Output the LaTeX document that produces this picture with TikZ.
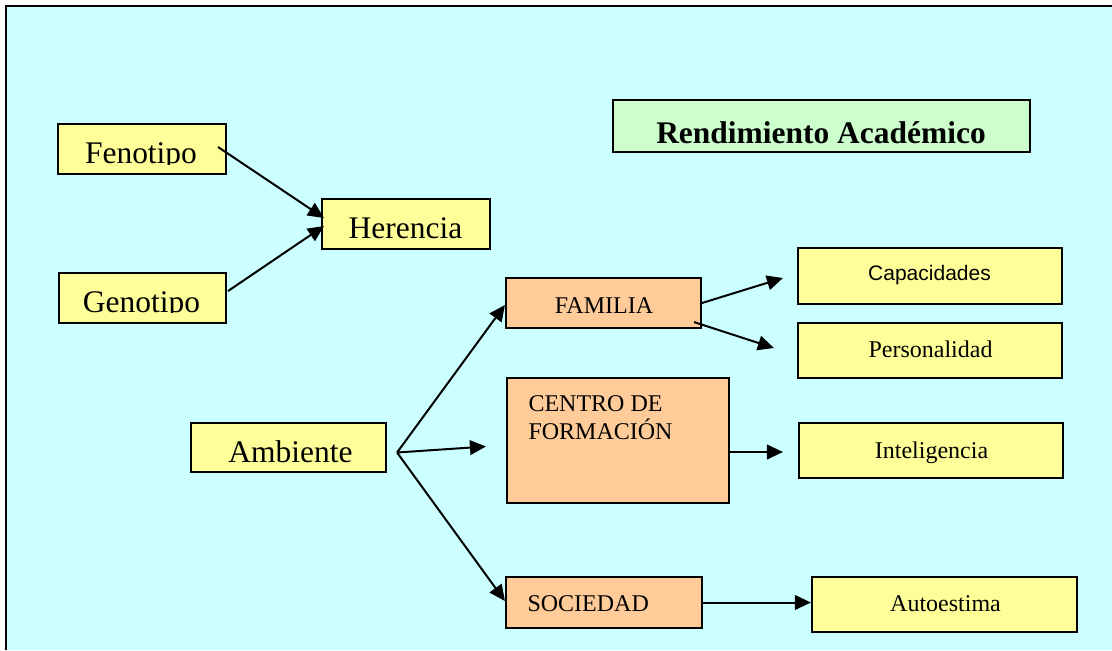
\documentclass[tikz,border=0pt]{standalone}
\usepackage{fontspec}
\setmainfont{Liberation Serif}
\newfontfamily\arialfont{Liberation Sans}
\usetikzlibrary{arrows.meta,calc}

\definecolor{fondo}{RGB}{204,255,255}
\definecolor{amarillo}{RGB}{255,255,153}
\definecolor{naranja}{RGB}{255,204,153}
\definecolor{verde}{RGB}{204,255,204}

\tikzset{every picture/.style={line width=0.75pt}}
\tikzset{
  caja/.style={draw, line width=1.6pt, inner sep=0pt},
  cajaamar/.style={caja, fill=amarillo},
  cajanar/.style={caja, fill=naranja},
  flecha/.style={line width=1.5pt, -{Triangle[length=12pt,width=11pt]}},
  grande/.style={inner sep=0pt, font=\fontsize{23.6}{28}\selectfont},
  chico/.style={inner sep=0pt, font=\fontsize{18}{21}\selectfont},
}

\begin{document}
\begin{tikzpicture}[x=0.75pt,y=0.75pt,yscale=-1,xscale=1]
  \useasboundingbox (0,0) rectangle (1112,650);

  %Shape: Background
  \fill[fondo] (6,6) rectangle (1112,650);
  \draw[line width=2pt] (6,650) -- (6,6) -- (1112,6);

  %Shape: Rectangle [feno]
  \node[cajaamar, minimum width=126pt, minimum height=37.5pt] (feno) at (142,149) {};
  %Shape: Rectangle [geno]
  \node[cajaamar, minimum width=125.25pt, minimum height=37.5pt] (geno) at (142.5,298) {};
  %Shape: Rectangle [here]
  \node[cajaamar, minimum width=126pt, minimum height=37.5pt] (here) at (406,224) {};
  %Shape: Rectangle [rend]
  \node[caja, fill=verde, minimum width=312.75pt, minimum height=39pt] (rend) at (821.5,126) {};
  %Shape: Rectangle [amb]
  \node[cajaamar, minimum width=146.25pt, minimum height=36.75pt] (amb) at (288.5,447.5) {};
  %Shape: Rectangle [fam]
  \node[cajanar, minimum width=146.25pt, minimum height=37.5pt] (fam) at (603.5,303) {};
  %Shape: Rectangle [centro]
  \node[cajanar, minimum width=166.5pt, minimum height=93.75pt] (centro) at (618,440.5) {};
  %Shape: Rectangle [soc]
  \node[cajanar, minimum width=147pt, minimum height=38.25pt] (soc) at (604,602.5) {};
  %Shape: Rectangle [capa]
  \node[cajaamar, minimum width=198pt, minimum height=42pt] (capa) at (930,276) {};
  %Shape: Rectangle [pers]
  \node[cajaamar, minimum width=198pt, minimum height=41.25pt] (pers) at (930,350.5) {};
  %Shape: Rectangle [intel]
  \node[cajaamar, minimum width=198pt, minimum height=41.25pt] (intel) at (931,450.5) {};
  %Shape: Rectangle [auto]
  \node[cajaamar, minimum width=198.75pt, minimum height=41.25pt] (auto) at (944.5,604.5) {};

  %Straight Lines [feno -> here]
  \draw[flecha] ($(feno.east)+(-9,-2)$) -- ($(here.west)+(3,-6)$);
  %Straight Lines [geno -> here]
  \draw[flecha] ($(geno.east)+(1,-7)$) -- ($(here.west)+(3,2)$);
  %Straight Lines [amb -> fam, centro, soc]
  \coordinate (ambpunta) at ($(amb.east)+(10,5)$);
  \coordinate (centroin) at ($(centro.west)+(-20,6)$);
  \draw[flecha] (ambpunta) -- ($(fam.west)+(0,2)$);
  \draw[flecha] (ambpunta) -- (centroin);
  \draw[flecha] (ambpunta) -- ($(soc.west)+(0,-1.5)$);
  %Straight Lines [fam -> capa, pers]
  \draw[flecha] (fam.east) -- ($(capa.west)+(-14,2)$);
  \draw[flecha] ($(fam.south east)+(-8,-7)$) -- ($(pers.west)+(-23,-2.5)$);
  %Straight Lines [centro -> intel]
  \draw[flecha] ($(centro.east)+(0,11.5)$) -- ($(intel.west)+(-15,1.5)$);
  %Straight Lines [soc -> auto]
  \draw[flecha] (soc.east) -- (soc.east -| auto.west);

  % Text Node
  \begin{scope}
    \clip (feno.north west) rectangle ($(feno.east)+(0,15)$);
    \node[grande, anchor=base] (fenotxt) at (141,163.5) {Fenotipo};
  \end{scope}
  % Text Node
  \begin{scope}
    \clip (geno.north west) rectangle ($(geno.east)+(0,14.5)$);
    \node[grande, anchor=base] (genotxt) at (141.5,312.5) {Genotipo};
  \end{scope}
  % Text Node
  \node[grande, anchor=base] (heretxt) at (405.5,238) {Herencia};
  % Text Node
  \node[grande, anchor=base, font=\fontsize{23.6}{28}\selectfont\bfseries] (rendtxt) at (821,143) {Rendimiento Académico};
  % Text Node
  \node[grande, anchor=base] (ambtxt) at (290.5,462) {Ambiente};
  % Text Node
  \node[chico, anchor=base] (famtxt) at (604,313) {FAMILIA};
  % Text Node
  \node[chico, anchor=base west, align=left] (centrotxt) at (528,439) {CENTRO DE\\FORMACIÓN};
  % Text Node
  \node[chico, anchor=base west] (soctxt) at (527,611) {SOCIEDAD};
  % Text Node
  \node[inner sep=0pt, anchor=base, font=\arialfont\fontsize{15.75}{19}\selectfont] (capatxt) at (929.5,280) {Capacidades};
  % Text Node
  \node[chico, anchor=base] (perstxt) at (930.5,357) {Personalidad};
  % Text Node
  \node[chico, anchor=base] (inteltxt) at (931.5,458) {Inteligencia};
  % Text Node
  \node[chico, anchor=base] (autotxt) at (945.5,611) {Autoestima};

\end{tikzpicture}
\end{document}
